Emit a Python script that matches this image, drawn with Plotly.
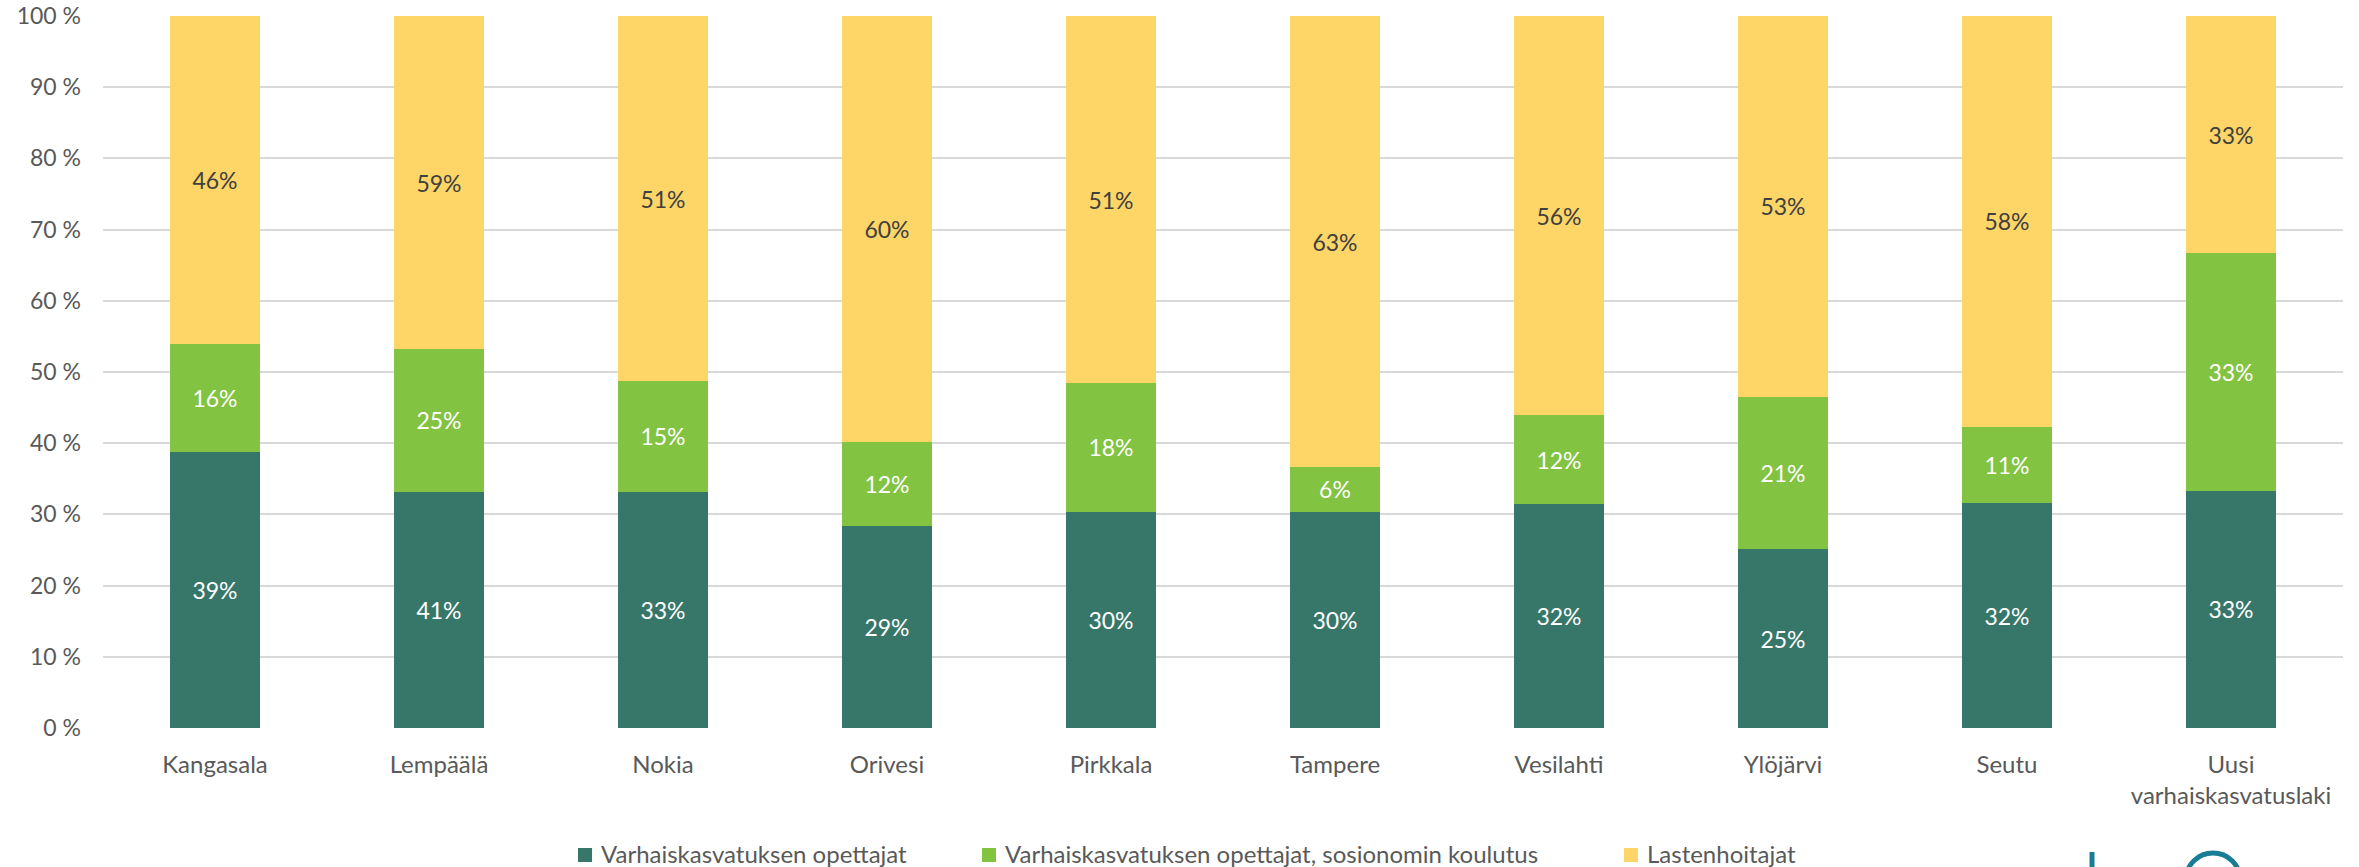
import plotly.graph_objects as go

categories = ["Kangasala", "Lempäälä", "Nokia", "Orivesi", "Pirkkala", "Tampere",
              "Vesilahti", "Ylöjärvi", "Seutu", "Uusi<br>varhaiskasvatuslaki"]

series_names = ["Varhaiskasvatuksen opettajat",
                "Varhaiskasvatuksen opettajat, sosionomin koulutus",
                "Lastenhoitajat"]

# segment heights (percent) as drawn
opettajat = [38.7, 33.2, 33.2, 28.4, 30.4, 30.4, 31.5, 25.1, 31.6, 33.3]
sosionomit = [15.3, 20.0, 15.5, 11.8, 18.0, 6.2, 12.4, 21.4, 10.7, 33.4]
lastenhoitajat = [46.0, 46.8, 51.3, 59.8, 51.6, 63.4, 56.1, 53.5, 57.7, 33.3]

# data labels as printed
opettajat_lbl = ["39%", "41%", "33%", "29%", "30%", "30%", "32%", "25%", "32%", "33%"]
sosionomit_lbl = ["16%", "25%", "15%", "12%", "18%", "6%", "12%", "21%", "11%", "33%"]
lastenhoitajat_lbl = ["46%", "59%", "51%", "60%", "51%", "63%", "56%", "53%", "58%", "33%"]

y_ticks = [0, 10, 20, 30, 40, 50, 60, 70, 80, 90, 100]
y_tick_text = ["0 %", "10 %", "20 %", "30 %", "40 %", "50 %", "60 %", "70 %", "80 %", "90 %", "100 %"]

colors = ["#37776A", "#82C341", "#FED567"]
label_colors = ["#FFFFFF", "#FFFFFF", "#404040"]

FONT = "Lato"
W, H = 2359, 867
L, R, T, B = 103, 16, 16, 139

fig = go.Figure()
for name, vals, lbls, c, lc in zip(series_names,
                                   [opettajat, sosionomit, lastenhoitajat],
                                   [opettajat_lbl, sosionomit_lbl, lastenhoitajat_lbl],
                                   colors, label_colors):
    fig.add_trace(go.Bar(
        x=categories, y=vals, name=name, text=lbls,
        marker=dict(color=c, line=dict(width=0)),
        textposition="inside", insidetextanchor="middle", textangle=0,
        constraintext="none",
        textfont=dict(family=FONT, size=23, color=lc),
        hoverinfo="skip", showlegend=False,
    ))

fig.update_layout(
    width=W, height=H,
    barmode="stack", bargap=0.598,
    paper_bgcolor="white", plot_bgcolor="white",
    margin=dict(l=L, r=R, t=T, b=B, autoexpand=False),
    font=dict(family=FONT, size=23, color="#595959"),
    showlegend=False,
    xaxis=dict(showgrid=False, showline=False, zeroline=False, ticks="",
               tickfont=dict(family=FONT, size=24, color="#595959"),
               ticklabelstandoff=20, fixedrange=True),
    yaxis=dict(range=[0, 100], tickvals=y_ticks, ticktext=y_tick_text,
               showgrid=True, gridcolor="#D9D9D9", gridwidth=1.8,
               zeroline=False, showline=False, ticks="",
               tickfont=dict(family=FONT, size=23, color="#595959"),
               ticklabelstandoff=21, fixedrange=True),
)

pw, ph = W - L - R, H - T - B
def px(x):
    return (x - L) / pw
def py(y):
    return (H - B - y) / ph

# custom legend (square + text) positioned like the reference
legend_square_x = [578, 982, 1624]
legend_y = 855
for name, c, sx in zip(series_names, colors, legend_square_x):
    fig.add_shape(type="rect", xref="paper", yref="paper",
                  x0=px(sx), x1=px(sx + 14), y0=py(legend_y + 7), y1=py(legend_y - 7),
                  fillcolor=c, line=dict(width=0))
    fig.add_annotation(xref="paper", yref="paper", x=px(sx + 21), y=py(legend_y - 2),
                       xanchor="left", yanchor="middle", showarrow=False,
                       text=name, font=dict(family=FONT, size=24, color="#595959"))

# partial logo in bottom-right corner (decoration)
fig.add_shape(type="line", xref="paper", yref="paper",
              x0=px(2092), x1=px(2092), y0=py(852), y1=py(875),
              line=dict(color="#1A7D96", width=5))
fig.add_shape(type="circle", xref="paper", yref="paper",
              x0=px(2186), x1=px(2240), y0=py(906), y1=py(853),
              line=dict(color="#1A7D96", width=5))

fig.write_html("out.html", config={"displayModeBar": False},
               post_script="document.body.style.margin='0';document.body.style.overflow='hidden';")
